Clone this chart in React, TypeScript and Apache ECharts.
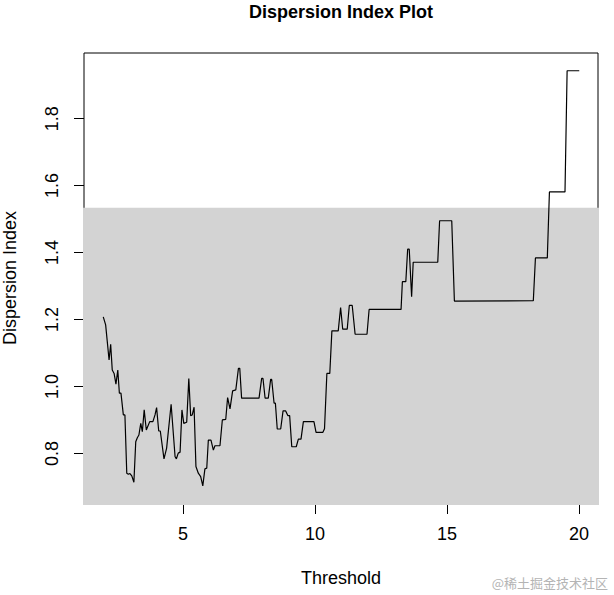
import React, { useEffect, useRef } from "react";
import * as echarts from "echarts";

const thresholds = [
  1.98, 2.07, 2.2, 2.26, 2.32, 2.39, 2.46, 2.53, 2.59, 2.65, 2.74, 2.8, 2.87, 2.93, 2.99, 3.06,
  3.14, 3.21, 3.27, 3.33, 3.4, 3.46, 3.53, 3.61, 3.66, 3.74, 3.86, 3.94, 4.0, 4.08, 4.14, 4.28,
  4.38, 4.55, 4.7, 4.75, 4.82, 4.89, 4.96, 5.03, 5.14, 5.22, 5.29, 5.35, 5.42, 5.49, 5.58, 5.67,
  5.75, 5.83, 5.9, 5.96, 6.06, 6.15, 6.21, 6.4, 6.49, 6.62, 6.69, 6.78, 6.88, 7.0, 7.1, 7.15,
  7.22, 7.88, 7.98, 8.03, 8.11, 8.23, 8.32, 8.36, 8.45, 8.5, 8.57, 8.7, 8.79, 8.89, 8.97, 9.04,
  9.12, 9.29, 9.37, 9.47, 9.56, 9.96, 10.04, 10.3, 10.36, 10.45, 10.56, 10.64, 10.88, 10.97,
  11.05, 11.22, 11.3, 11.41, 11.52, 11.97, 12.05, 13.26, 13.31, 13.44, 13.51, 13.57, 13.66,
  13.72, 14.65, 14.72, 15.18, 15.28, 18.27, 18.35, 18.8, 18.88, 19.47, 19.55, 20.01,
];

const dispersionIndex = [
  1.208, 1.184, 1.079, 1.126, 1.049, 1.039, 1.007, 1.049, 0.98, 0.98, 0.915, 0.915, 0.741, 0.738,
  0.74, 0.733, 0.714, 0.835, 0.847, 0.855, 0.89, 0.865, 0.93, 0.87, 0.88, 0.895, 0.895, 0.915,
  0.937, 0.867, 0.867, 0.784, 0.816, 0.947, 0.79, 0.784, 0.801, 0.804, 0.93, 0.89, 0.893, 1.024,
  0.913, 0.915, 0.938, 0.761, 0.741, 0.731, 0.703, 0.754, 0.756, 0.84, 0.84, 0.81, 0.823, 0.823,
  0.9, 0.902, 0.967, 0.933, 0.987, 0.99, 1.054, 1.054, 0.965, 0.965, 1.024, 1.024, 0.965, 0.965,
  1.021, 1.021, 0.95, 0.95, 0.873, 0.873, 0.927, 0.927, 0.913, 0.913, 0.82, 0.82, 0.843, 0.843,
  0.895, 0.895, 0.863, 0.863, 0.874, 1.039, 1.039, 1.166, 1.166, 1.236, 1.171, 1.171, 1.242,
  1.242, 1.156, 1.156, 1.23, 1.23, 1.313, 1.313, 1.41, 1.41, 1.268, 1.371, 1.371, 1.495, 1.495,
  1.255, 1.256, 1.384, 1.384, 1.581, 1.581, 1.943, 1.943,
];

const xTicks = [5, 10, 15, 20];
const yTicks = [0.8, 1.0, 1.2, 1.4, 1.6, 1.8];
const xRange = [1.25, 20.72];
const yRange = [0.649, 1.996];
const shadeTop = 1.531;

const FONT = "'Liberation Sans', Arial, Helvetica, sans-serif";

export default function App() {
  const ref = useRef<HTMLDivElement>(null);

  useEffect(() => {
    if (!ref.current) return;
    const chart = echarts.init(ref.current, null, { renderer: "svg" });
    const data = thresholds.map((t, i) => [t, dispersionIndex[i]]);
    chart.setOption({
      animation: false,
      backgroundColor: "#ffffff",
      textStyle: { fontFamily: FONT },
      grid: {
        left: 84,
        right: 16,
        top: 53,
        bottom: 91,
        show: true,
        borderColor: "#000000",
        borderWidth: 1,
        backgroundColor: "#ffffff",
        containLabel: false,
        outerBoundsMode: "none",
      },
      xAxis: {
        type: "value",
        min: xRange[0],
        max: xRange[1],
        axisLine: { show: false },
        splitLine: { show: false },
        axisTick: { show: true, length: 10, customValues: xTicks, lineStyle: { color: "#000", width: 1 } },
        axisLabel: {
          customValues: xTicks,
          margin: 21,
          fontSize: 18,
          color: "#000",
          fontFamily: FONT,
          formatter: (v: number) => String(v),
        },
      },
      yAxis: {
        type: "value",
        min: yRange[0],
        max: yRange[1],
        axisLine: { show: false },
        splitLine: { show: false },
        axisTick: { show: true, length: 10, customValues: yTicks, lineStyle: { color: "#000", width: 1 } },
        axisLabel: {
          customValues: yTicks,
          rotate: 90,
          margin: 23,
          fontSize: 18,
          color: "#000",
          fontFamily: FONT,
          formatter: (v: number) => v.toFixed(1),
        },
      },
      graphic: [
        {
          type: "text",
          x: 341,
          y: 12,
          style: {
            text: "Dispersion Index Plot",
            fontSize: 18,
            fontWeight: "bold",
            fontFamily: FONT,
            fill: "#000",
            align: "center",
            verticalAlign: "middle",
          },
        },
        {
          type: "text",
          x: 10,
          y: 278,
          rotation: Math.PI / 2,
          style: {
            text: "Dispersion Index",
            fontSize: 18,
            fontFamily: FONT,
            fill: "#000",
            align: "center",
            verticalAlign: "middle",
          },
        },
        {
          type: "text",
          x: 341,
          y: 578,
          style: {
            text: "Threshold",
            fontSize: 18,
            fontFamily: FONT,
            fill: "#000",
            align: "center",
            verticalAlign: "middle",
          },
        },
        {
          type: "text",
          x: 608,
          y: 582,
          style: {
            text: "@稀土掘金技术社区",
            fontSize: 13,
            fontFamily: "'Noto Sans CJK SC', sans-serif",
            fill: "#b4b4b4",
            align: "right",
            verticalAlign: "middle",
          },
        },
      ],
      series: [
        {
          type: "line",
          data,
          showSymbol: false,
          symbol: "none",
          z: 3,
          lineStyle: { color: "#000000", width: 1.2 },
          markArea: {
            silent: true,
            label: { show: false },
            itemStyle: { color: "#d3d3d3", opacity: 1, borderColor: "#d3d3d3", borderWidth: 2 },
            data: [
              [
                { xAxis: xRange[0], yAxis: yRange[0] },
                { xAxis: xRange[1], yAxis: shadeTop },
              ],
            ],
          },
        },
      ],
    });
    return () => chart.dispose();
  }, []);

  return (
    <div
      ref={ref}
      style={{ position: "fixed", left: 0, top: 0, width: 614, height: 595 }}
    />
  );
}
